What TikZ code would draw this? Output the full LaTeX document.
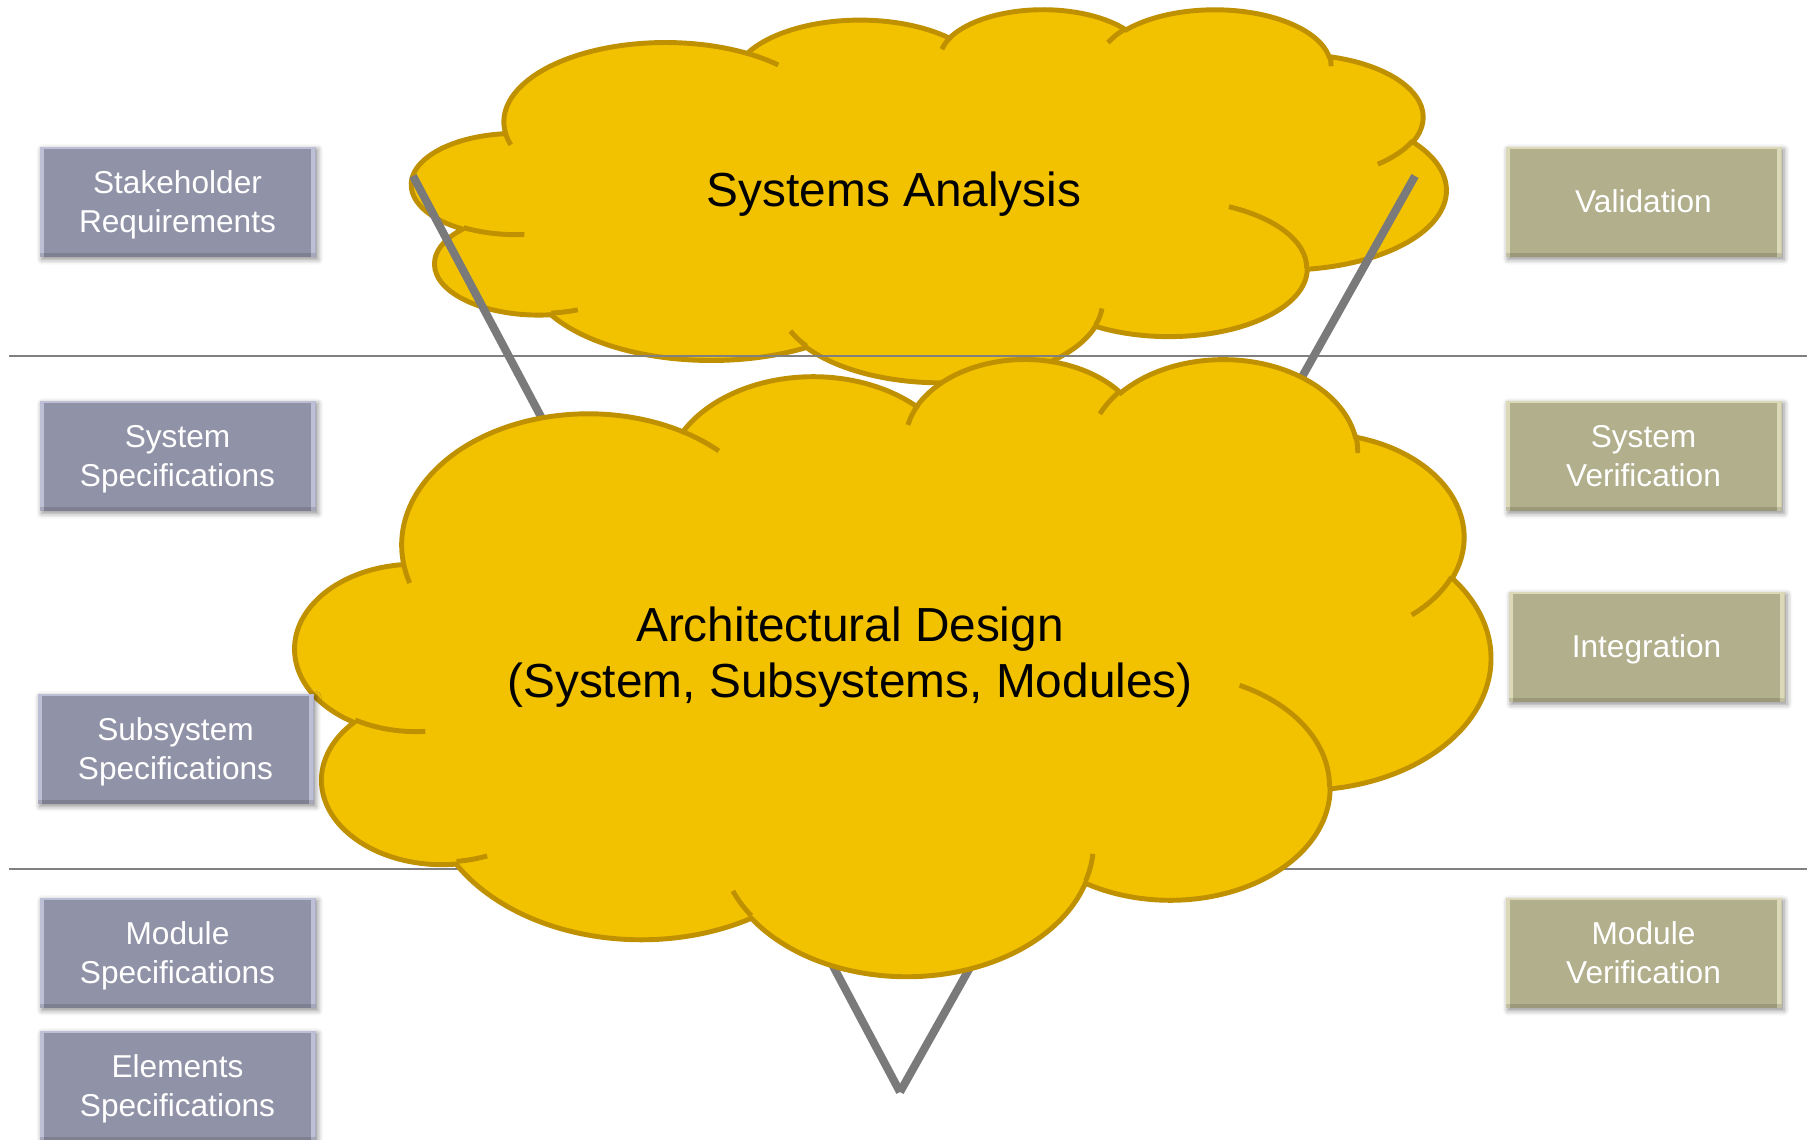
\documentclass[tikz,border=0pt]{standalone}
\usepackage{fontspec}
\setmainfont{Liberation Sans}
\usetikzlibrary{positioning,shadows.blur}

\definecolor{SpecBlue}{HTML}{9092A7}
\definecolor{SpecEdge}{HTML}{BDBFD6}
\definecolor{TestOlive}{HTML}{B2AF8C}
\definecolor{TestEdge}{HTML}{DCD9B8}
\definecolor{CloudFill}{HTML}{F2C200}
\definecolor{CloudLine}{HTML}{BF9000}
\definecolor{RuleGray}{HTML}{808080}
\definecolor{VeeGray}{HTML}{7A7A7A}

% elliptical arc, start and sweep measured as seen from the centre
\newcommand\cloudarc[4]{%
  arc[start angle={atan2(sin(#3)*#1,cos(#3)*#2)},
      delta angle={mod(atan2(sin(#3+#4)*#1,cos(#3+#4)*#2)-atan2(sin(#3)*#1,cos(#3)*#2)+720,360)},
      x radius=#1, y radius=#2]}

% cloud in a #3 x #4 frame with top left corner (#1,#2)
\newcommand\cloudat[4]{%
  \begin{scope}[shift={(#1,#2)}, xscale=#3/432, yscale=#4/432]
    \filldraw[cloud, fill=CloudFill] (39.00,143.70)
      \cloudarc{67.53}{91.90}{-190.49}{123.78}
      \cloudarc{53.33}{72.67}{-144.10}{89.95}
      \cloudarc{43.65}{59.45}{-145.81}{99.72}
      \cloudarc{48.57}{65.95}{-130.99}{117.24}
      \cloudarc{53.33}{72.73}{-78.71}{109.03}
      \cloudarc{67.75}{92.20}{-46.27}{130.27}
      \cloudarc{57.85}{78.67}{0.63}{114.03}
      \cloudarc{67.52}{92.15}{22.45}{115.17}
      \cloudarc{77.20}{105.43}{66.24}{75.71}
      \cloudarc{43.60}{59.18}{-274.94}{146.74}
      \cloudarc{43.45}{59.45}{-246.83}{152.52}
      -- cycle;
    % inner folds
    \draw[cloud] (46.93,261.77) \cloudarc{43.45}{59.45}{86.74}{26.43}
      (69.28,348.99) \cloudarc{43.60}{59.18}{73.61}{11.45}
      (164.78,390.90) \cloudarc{67.52}{92.15}{137.62}{14.08}
      (288.27,347.51) \cloudarc{67.52}{92.15}{6.45}{16.00}
      (341.29,229.54) \cloudarc{57.85}{78.67}{-70.29}{70.92}
      (417.98,153.54) \cloudarc{53.33}{72.73}{30.32}{27.75}
      (383.24,54.26) \cloudarc{48.57}{65.95}{-13.74}{14.86}
      (290.78,39.52) \cloudarc{48.57}{65.95}{-149.18}{18.20}
      (221.41,47.20) \cloudarc{43.65}{59.45}{-163.49}{17.84}
      (140.00,51.92) \cloudarc{67.53}{91.90}{-66.71}{12.32}
      (41.27,157.89) \cloudarc{67.53}{91.90}{157.65}{11.86};
  \end{scope}}

% fixed line heights so every label sits the same way in its box
\newcommand\linestrut{\rule[-0.212em]{0pt}{1.117em}}
\newcommand\tallstrut{\rule[-0.212em]{0pt}{2.328em}}

\tikzset{
  cloud/.style={draw=CloudLine, line width=1.4pt},
  rule/.style={RuleGray, line width=0.7pt},
  vee/.style={VeeGray, line width=2.3pt},
  bevel/.style={path picture={
    \fill[#1] (path picture bounding box.south west) rectangle ([xshift=1.4pt]path picture bounding box.north west);
    \fill[#1] ([xshift=-1.4pt]path picture bounding box.south east) rectangle (path picture bounding box.north east);
    \fill[#1] ([yshift=-0.7pt]path picture bounding box.north west) rectangle (path picture bounding box.north east);
    \fill[black, opacity=0.12] (path picture bounding box.south west) rectangle ([yshift=1pt]path picture bounding box.south east);
  }},
  phasebox/.style={minimum width=27.6mm, minimum height=11mm, inner sep=0pt,
    align=center, text=white, font=\fontsize{9}{10.9}\selectfont,
    execute at begin node=\linestrut, execute at end node=\linestrut,
    blur shadow={shadow xshift=0.7pt, shadow yshift=-0.7pt, shadow blur radius=1.5pt, shadow opacity=45}},
  twoline/.style={execute at begin node=\tallstrut},
  specbox/.style={phasebox, twoline, fill=SpecBlue, bevel=SpecEdge},
  testbox/.style={phasebox, fill=TestOlive, bevel=TestEdge},
  cloudtext/.style={font=\fontsize{13.6}{16.1}\selectfont, align=center}
}

\begin{document}
\begin{tikzpicture}[x=0.1mm, y=-0.1mm]
  \useasboundingbox (0,0) rectangle (1814,1140);

  %% Upper cloud
  \cloudat{412}{8.5}{1034}{373}

  %% Level separators
  \draw[rule] (9,356) -- (1807,356);
  \draw[rule] (9,869) -- (1807,869);

  %% V
  \coordinate (veeL) at (413,176);
  \coordinate (veeR) at (1415,176);
  \coordinate (veeB) at (900,1092);
  \draw[vee] (veeL) -- (veeB);
  \draw[vee] (veeR) -- (veeB);

  %% Lower cloud
  \cloudat{295.5}{357.5}{1195}{617}

  \node[cloudtext, anchor=base] (analysis) at (894,207) {Systems Analysis};
  \node[cloudtext] (design) at (850,657) {Architectural Design\\(System, Subsystems, Modules)};

  %% Left column
  \node[specbox] (stake) at (177.5,202) {Stakeholder\\Requirements};
  \node[specbox] (sysspec) at (177.5,456) {System\\Specifications};
  \node[specbox] (subspec) at (175.5,749) {Subsystem\\Specifications};
  \node[specbox] (modspec) at (177.5,953) {Module\\Specifications};
  \node[specbox] (elemspec) at (177.5,1086) {Elements\\Specifications};

  %% Right column
  \node[testbox] (valid) at (1643.5,202) {Validation};
  \node[testbox, twoline] (sysver) at (1643.5,456) {System\\Verification};
  \node[testbox] (integ) at (1646.5,647) {Integration};
  \node[testbox, twoline] (modver) at (1643.5,953) {Module\\Verification};
\end{tikzpicture}
\end{document}
